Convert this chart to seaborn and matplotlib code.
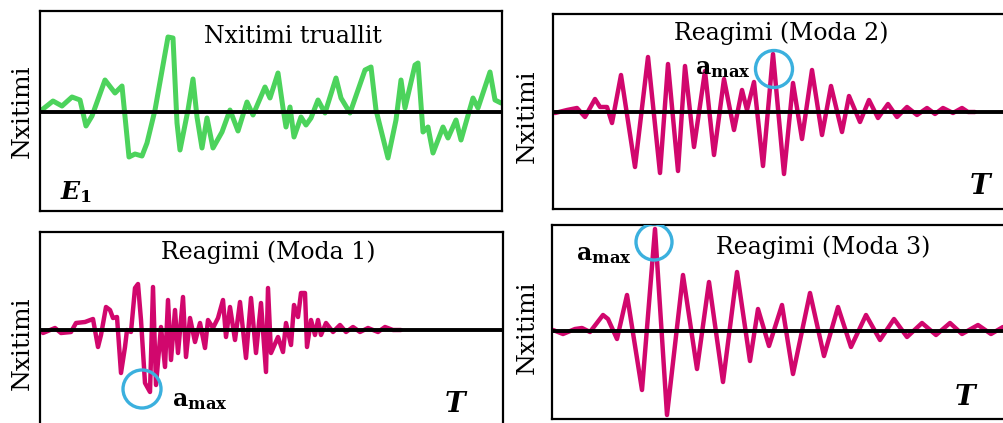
import matplotlib
matplotlib.use("Agg")
import matplotlib.pyplot as plt
from matplotlib.patches import Circle
import pandas as pd
import seaborn as sns

sns.set_theme(style="white")
SERIF = "DejaVu Serif"
plt.rcParams["font.family"] = [SERIF, "Liberation Serif"]
plt.rcParams["text.color"] = "black"
plt.rcParams["mathtext.fontset"] = "custom"
plt.rcParams["mathtext.rm"] = SERIF
plt.rcParams["mathtext.it"] = SERIF + ":italic"
plt.rcParams["mathtext.bf"] = SERIF + ":bold"
plt.rcParams["mathtext.bfit"] = SERIF + ":italic:bold"

# ---- ground excitation (time samples, amplitude) ----
t_exc = [1, 3, 13, 22, 32, 40, 46, 52, 65, 75, 82, 89, 95, 102, 107, 115, 128, 133, 137, 140,
         148, 153, 157, 162, 167, 173, 182, 190, 198, 207, 213, 225, 230, 238, 243, 246, 250,
         254, 261, 266, 271, 278, 285, 296, 301, 310, 325, 331, 336, 341, 348, 356, 361, 365,
         375, 378, 383, 388, 393, 403, 408, 416, 421, 433, 438, 450, 455, 461]
a_exc = [2, 3, 11, 6, 15, 12, -14, -4, 32, 19, 26, -45, -42, -44, -31, 2, 75, 74, -11, -38,
         2, 33, -5, -36, -6, -36, -20, 2, -19, 10, -3, 25, 14, 39, 4, -15, 5, -25, -5, -13,
         -6, 12, -1, 34, 14, -1, 42, 45, 2, -18, -46, -8, 32, 4, 47, 49, -20, -15, -41, -15,
         -26, -8, -28, 14, 4, 40, 12, 9]

# ---- response, mode 1 ----
t_m1 = [3, 15, 21, 31, 36, 45, 53, 58, 61, 66, 70, 73, 77, 81, 85, 87, 91, 95, 98, 101,
        105, 110, 113, 116, 121, 125, 128, 131, 135, 138, 143, 146, 150, 155, 160, 165, 168,
        173, 178, 183, 186, 190, 195, 200, 203, 206, 211, 216, 221, 226, 228, 231, 238, 243,
        246, 251, 254, 258, 261, 265, 267, 271, 275, 278, 281, 286, 293, 300, 306, 313, 320,
        328, 338, 345, 353, 361]
a_m1 = [-3, 2, -3, -2, 7, 8, 11, -17, -5, 23, 20, 12, 13, -43, -17, 0, -2, 42, 46, 10, -53,
        -62, 43, -55, 3, -37, 30, -30, 20, -23, 33, -27, 12, -12, 7, -18, 10, 2, 12, 30, -7,
        23, -10, 28, 0, -28, 32, -23, 27, -42, 42, -23, -7, -22, 7, -15, 25, 13, 37, 37, -17,
        10, -5, 10, -5, 7, -2, 5, -2, 3, -2, 2, -2, 3, 0, 0]

# ---- response, mode 2 ----
t_m2 = [2, 14, 24, 32, 42, 47, 54, 59, 68, 82, 95, 107, 115, 125, 132, 141, 152, 161, 171,
        181, 189, 194, 201, 210, 220, 231, 240, 249, 259, 269, 278, 289, 296, 307, 316, 325,
        335, 344, 354, 364, 374, 382, 390, 400, 409, 415, 422]
a_m2 = [-1, 2, 4, -5, 13, 5, 5, -11, 37, -55, 55, -61, 48, -59, 46, -35, 41, -43, 33, -18,
        22, 2, 30, -54, 58, -62, 29, -27, 42, -23, 26, -20, 16, -10, 12, -6, 8, -5, 5, -3, 4,
        -2, 4, -1, 4, 0, 0]

# ---- response, mode 3 ----
t_m3 = [1, 11, 23, 30, 38, 51, 56, 65, 75, 90, 103, 115, 131, 145, 157, 171, 185, 198, 206,
        217, 230, 241, 258, 272, 286, 299, 314, 328, 342, 355, 370, 384, 398, 410, 426, 439,
        451]
a_m3 = [1, -3, 2, 3, -1, 16, 12, -8, 36, -59, 102, -84, 56, -38, 49, -51, 59, -30, 22, -15,
        26, -43, 38, -25, 24, -16, 16, -9, 12, -6, 8, -4, 8, -3, 6, -3, 4]

GREEN = "#4cd35c"
MAGENTA = "#d1076d"
RING = "#3bb0de"

W, H = 1004, 423
fig = plt.figure(figsize=(W / 100, H / 100), dpi=100)


def panel(left, top, right, bottom, zero):
    ax = fig.add_axes([left / W, 1 - bottom / H, (right - left) / W, (bottom - top) / H])
    ax.set_xlim(0, right - left)
    ax.set_ylim(-(bottom - zero), zero - top)
    ax.set_xticks([])
    ax.set_yticks([])
    for s in ax.spines.values():
        s.set_color("black")
        s.set_linewidth(1.6)
    return ax


def trace(ax, t, a, color, lw):
    df = pd.DataFrame({"t": t, "a": a})
    sns.lineplot(data=df, x="t", y="a", ax=ax, color=color, linewidth=lw,
                 sort=False, estimator=None, solid_joinstyle="round",
                 solid_capstyle="round", zorder=2)
    ax.axhline(0, color="black", linewidth=2.8, zorder=3)
    ax.set_xlabel("")
    ax.set_ylabel("")


def ylab(ax, xf, yf):
    ax.text(xf, yf, "Nxitimi", transform=ax.transAxes, rotation=90,
            fontsize=18, ha="center", va="center", clip_on=False)


amax = r"$\mathbf{a}_{\mathbf{max}}$"
TFS = 17

# top-left: excitation
ax1 = panel(40, 11, 502, 211, 112)
trace(ax1, t_exc, a_exc, GREEN, 3.6)
ax1.text(253, 75, "Nxitimi truallit", fontsize=TFS, ha="center", va="center")
ax1.text(20, -80, r"$\mathbfit{E}_{\mathbf{1}}$", fontsize=18, ha="left", va="center")
ylab(ax1, -0.039, 0.5)

# top-right: mode 2
ax2 = panel(553, 14, 1007, 209, 112)
trace(ax2, t_m2, a_m2, MAGENTA, 3.2)
ax2.text(228, 79, "Reagimi (Moda 2)", fontsize=TFS, ha="center", va="center")
ax2.text(142, 44, amax, fontsize=17, ha="left", va="center")
ax2.add_patch(Circle((221, 43), 18.5, fill=False, ec=RING, lw=2.4, zorder=4))
ax2.text(428, -75, r"$\mathbfit{T}$", fontsize=20, ha="center", va="center")
ylab(ax2, -0.057, 0.477)

# bottom-left: mode 1
ax3 = panel(40, 232, 503, 432, 330)
trace(ax3, t_m1, a_m1, MAGENTA, 3.2)
ax3.text(228, 78, "Reagimi (Moda 1)", fontsize=TFS, ha="center", va="center")
ax3.text(132, -70, amax, fontsize=17, ha="left", va="center")
ax3.add_patch(Circle((102, -59), 19, fill=False, ec=RING, lw=2.4, zorder=4))
ax3.text(416, -75, r"$\mathbfit{T}$", fontsize=20, ha="center", va="center")
ylab(ax3, -0.039, 0.445)

# bottom-right: mode 3
ax4 = panel(552, 225, 1007, 419, 331)
trace(ax4, t_m3, a_m3, MAGENTA, 3.2)
ax4.text(271, 84, "Reagimi (Moda 3)", fontsize=TFS, ha="center", va="center")
ax4.text(24, 77, amax, fontsize=17, ha="left", va="center")
ax4.add_patch(Circle((102, 89), 18, fill=False, ec=RING, lw=2.4, zorder=4))
ax4.text(414, -66, r"$\mathbfit{T}$", fontsize=20, ha="center", va="center")
ylab(ax4, -0.055, 0.474)

fig.savefig("out.png", dpi=100)
